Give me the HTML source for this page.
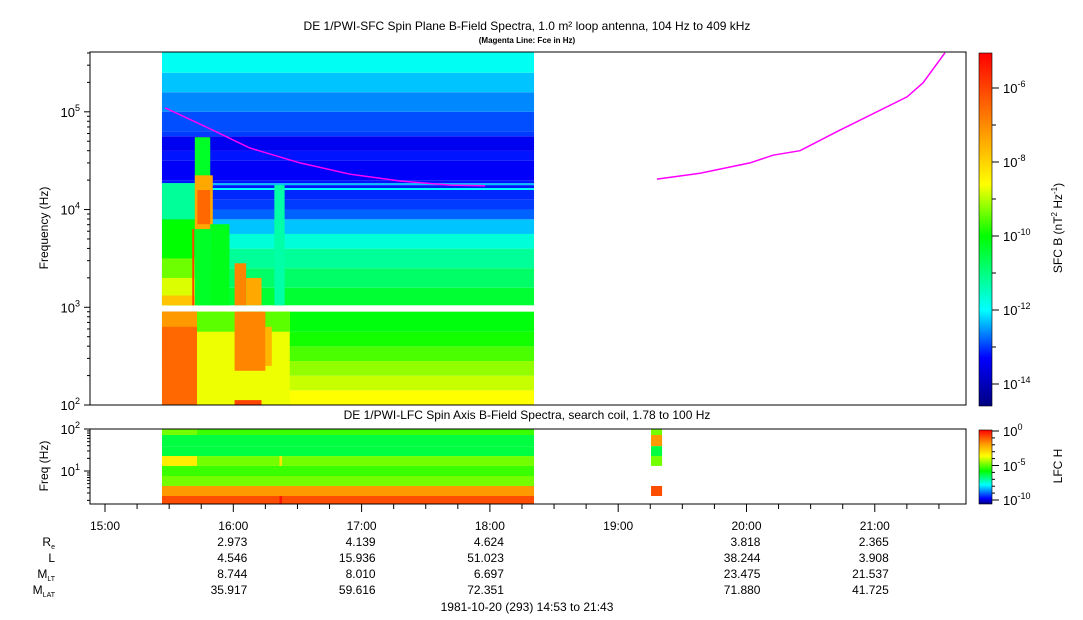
<!DOCTYPE html>
<html><head><meta charset="utf-8"><style>
body{margin:0;background:#fff;}
svg{display:block;font-family:"Liberation Sans",sans-serif;}
</style></head><body>
<svg id="chart" width="1083" height="620" viewBox="0 0 1083 620" xmlns="http://www.w3.org/2000/svg">
<defs>
<linearGradient id="cbMain" x1="0" y1="1" x2="0" y2="0">
<stop offset="0" stop-color="#000080"/><stop offset="0.136" stop-color="#0000ff"/><stop offset="0.272" stop-color="#00ffff"/><stop offset="0.482" stop-color="#00ff00"/><stop offset="0.628" stop-color="#ffff00"/><stop offset="0.775" stop-color="#ff9900"/><stop offset="0.953" stop-color="#ff2000"/><stop offset="1" stop-color="#ff0000"/>
</linearGradient>
<linearGradient id="cbLow" x1="0" y1="1" x2="0" y2="0">
<stop offset="0" stop-color="#000080"/><stop offset="0.074" stop-color="#0000ff"/><stop offset="0.259" stop-color="#00ffff"/><stop offset="0.444" stop-color="#00ff00"/><stop offset="0.648" stop-color="#ffff00"/><stop offset="0.815" stop-color="#ff9900"/><stop offset="1" stop-color="#ff0000"/>
</linearGradient>
</defs>
<g id="layer"></g>
</svg>
<script>
// ---- data ----
const upperEdges = [3.02,3.2,3.4,3.6,3.75,3.9,4.0,4.1,4.2,4.22,4.25,4.27,4.3,4.5,4.6,4.75,4.8,5.0,5.2,5.4,5.612];
const upperValues = [-10.4,-10.8,-11.2,-11.7,-12.3,-12.8,-13.0,-13.1,-12.0,-13.2,-12.3,-13.2,-13.35,-13.2,-13.45,-13.0,-12.9,-12.6,-12.3,-11.9];
const lowerEdges = [2.0,2.15,2.3,2.45,2.6,2.75,2.955];
const lowerValues = [-8.6,-8.9,-9.2,-9.6,-9.9,-10.1];
const sfcStart = 15.444, sfcEnd = 18.344;
// events: [t0, t1, logf0, logf1, log power]
const sfcEvents = [
 [15.444,15.717,3.9,4.27,-11.2],
 [15.444,15.717,3.02,3.9,-10.0],
 [15.444,15.717,3.02,3.5,-9.4],
 [15.444,15.717,3.02,3.3,-8.8],
 [15.444,15.717,3.02,3.12,-7.8],
 [15.444,15.717,2.0,2.955,-6.5],
 [15.444,15.717,2.8,2.955,-7.2],
 [15.700,15.820,3.02,4.74,-10.3],
 [15.700,15.840,3.80,4.35,-7.4],
 [15.720,15.820,3.85,4.20,-6.5],
 [15.680,15.695,3.02,3.80,-6.0],
 [15.820,15.970,3.02,3.85,-10.2],
 [15.717,16.440,2.0,2.955,-8.7],
 [15.717,16.440,2.75,2.955,-9.5],
 [16.010,16.100,3.02,3.45,-6.9],
 [16.100,16.220,3.02,3.30,-7.4],
 [16.010,16.250,2.35,2.955,-6.9],
 [16.250,16.300,2.40,2.80,-7.6],
 [16.320,16.400,3.02,4.25,-11.3],
 [16.010,16.220,2.0,2.05,-6.0]
];
const fceTimes1 = [15.468,15.740,16.130,16.520,16.910,17.299,17.689,17.962];
const fceFreqs1 = [110000,75000,42600,30000,23000,19600,17800,17500];
const fceTimes2 = [19.302,19.638,20.027,20.207,20.417,20.729,21.251,21.376,21.547];
const fceFreqs2 = [20500,23500,30000,36000,40000,65000,142000,198000,401000];
const lfcEdges = [100,72,39,22.7,13.2,7.6,4.4,2.54,1.64];
const lfcValues = [-5.5,-6.5,-6.5,-5.0,-5.5,-5.0,-2.0,-1.0];
const lfcEvents = [
 [15.444,15.717,0,-5.0],[15.444,15.717,3,-3.5],
 [16.360,16.380,3,-3.3],[16.360,16.380,7,-0.3],
 [19.256,19.342,0,-5.0],[19.256,19.342,1,-2.0],[19.256,19.342,2,-6.5],[19.256,19.342,3,-5.0],[19.256,19.342,6,-1.0]
];
const tickHours = [15,16,17,18,19,20,21];
const tickLabels = ["15:00","16:00","17:00","18:00","19:00","20:00","21:00"];
const ephemHours = [16,17,18,20,21];
const ephRe = ["2.973","4.139","4.624","3.818","2.365"];
const ephL = ["4.546","15.936","51.023","38.244","3.908"];
const ephMLT = ["8.744","8.010","6.697","23.475","21.537"];
const ephMLAT = ["35.917","59.616","72.351","71.880","41.725"];

// ---- axes ----
const X0=90, X1=966, T0=14.883, T1=21.711;
const xs = t => X0 + (t-T0)/(T1-T0)*(X1-X0);
const Y_TOP=52, Y_BOT=405;
const ys = lf => Y_BOT - (lf-2)*(Y_BOT-Y_TOP)/(5.612-2);
const LY_TOP=429, LY_BOT=504;
const ysl = f => 471 - (Math.log10(f)-1)*42;

function lerpCol(stops, v){
  if(v<=stops[0][0]) return `rgb(${stops[0][1].join(',')})`;
  for(let i=1;i<stops.length;i++){ if(v<=stops[i][0]){ const a=stops[i-1],b=stops[i],k=(v-a[0])/(b[0]-a[0]);
    const c=a[1].map((x,j)=>Math.round(x+(b[1][j]-x)*k)); return `rgb(${c[0]},${c[1]},${c[2]})`; } }
  const l=stops[stops.length-1][1]; return `rgb(${l[0]},${l[1]},${l[2]})`;
}
const mainStops=[[-14.6,[0,0,128]],[-13.3,[0,0,255]],[-12,[0,255,255]],[-10,[0,255,0]],[-8.6,[255,255,0]],[-7.2,[255,153,0]],[-5.5,[255,32,0]],[-5.05,[255,0,0]]];
const lowStops=[[-10.8,[0,0,128]],[-10,[0,0,255]],[-8,[0,255,255]],[-6,[0,255,0]],[-3.8,[255,255,0]],[-2,[255,153,0]],[0,[255,0,0]]];

const NS="http://www.w3.org/2000/svg";
const layer=document.getElementById('layer');
function el(tag, attrs, parent){ const e=document.createElementNS(NS,tag); for(const k in attrs) e.setAttribute(k,attrs[k]); (parent||layer).appendChild(e); return e; }
function txt(x,y,s,size,anchor,parent,extra){ const e=el('text',Object.assign({x:x,y:y,'font-size':size,'text-anchor':anchor||'middle',fill:'#000'},extra||{}),parent); e.textContent=s; return e; }

// titles
let t1=txt(527,30,"DE 1/PWI-SFC  Spin Plane B-Field Spectra, 1.0 m² loop antenna, 104 Hz to 409 kHz",12);


let t2=txt(527,43,"(Magenta Line: Fce in Hz)",8,'middle',null,{'font-weight':'bold'});



// spectrogram upper
const spec=el('g',{});


function band(edges,vals){
  for(let i=0;i<vals.length;i++){
    const r=el('rect',{x:xs(sfcStart),width:xs(sfcEnd)-xs(sfcStart),y:ys(edges[i+1]),height:ys(edges[i])-ys(edges[i+1]),fill:lerpCol(mainStops,vals[i])},spec);
    
    
  }
}
band(upperEdges,upperValues);
band(lowerEdges,lowerValues);
sfcEvents.forEach(e=>{
  const r=el('rect',{x:xs(e[0]),width:xs(e[1])-xs(e[0]),y:ys(e[3]),height:ys(e[2])-ys(e[3]),fill:lerpCol(mainStops,e[4])},spec);
  
  
});
// Fce lines
function fce(ts,fs,name){
  const p=el('polyline',{points:ts.map((t,i)=>xs(t)+','+ys(Math.log10(fs[i]))).join(' '),fill:'none',stroke:'#ff00ff','stroke-width':1.5});
  
  
}
fce(fceTimes1,fceFreqs1,'fce-line-1');
fce(fceTimes2,fceFreqs2,'fce-line-2');

// main frame
const fr=el('rect',{x:X0,y:Y_TOP,width:X1-X0,height:Y_BOT-Y_TOP,fill:'none',stroke:'#000','stroke-width':1});


const yax=el('g',{});


for(let d=2; d<=5; d++){
  for(let m=1;m<10;m++){
    const lf=d+Math.log10(m); if(lf>5.612) break;
    const y=ys(lf);
    el('line',{x1:X0-(m==1?6:3),x2:X0,y1:y,y2:y,stroke:'#000'},yax);
  }
  const tt=el('text',{x:X0-10,y:ys(d)+5,'font-size':13,'text-anchor':'end'},yax);
  tt.innerHTML='10<tspan dy="-6" font-size="9">'+d+'</tspan>';
}
const yl=txt(48,228,"Frequency (Hz)",12,'middle',null,{transform:'rotate(-90 48 228)'});



// colorbar main
const cb=el('rect',{x:979,y:53,width:13,height:353,fill:'url(#cbMain)',stroke:'#000','stroke-width':0.6});


const cbVal = v => 384 - (v+14)*37;
for(let v=-14; v<=-5.2; v+=1){ const y=cbVal(v); el('line',{x1:992,x2:v%2===0?999:996,y1:y,y2:y,stroke:'#000'}); }
[-6,-8,-10,-12,-14].forEach(v=>{ const tt=el('text',{x:1003,y:cbVal(v)+5,'font-size':13}); tt.innerHTML='10<tspan dy="-6" font-size="9">'+v+'</tspan>'; });
const cbt=el('text',{x:1062,y:228,'font-size':12,'text-anchor':'middle',transform:'rotate(-90 1062 228)'});
cbt.innerHTML='SFC B (nT<tspan dy="-5" font-size="8">2</tspan><tspan dy="5"> Hz</tspan><tspan dy="-5" font-size="8">-1</tspan><tspan dy="5">)</tspan>';



// lower panel
let t3=txt(527,419,"DE 1/PWI-LFC  Spin Axis B-Field Spectra, search coil, 1.78 to 100 Hz",12);


const lfc=el('g',{});


for(let i=0;i<lfcValues.length;i++){
  const r=el('rect',{x:xs(sfcStart),width:xs(sfcEnd)-xs(sfcStart),y:ysl(lfcEdges[i]),height:ysl(lfcEdges[i+1])-ysl(lfcEdges[i]),fill:lerpCol(lowStops,lfcValues[i])},lfc);
  
  
}
lfcEvents.forEach(e=>{
  const r=el('rect',{x:xs(e[0]),width:xs(e[1])-xs(e[0]),y:ysl(lfcEdges[e[2]]),height:ysl(lfcEdges[e[2]+1])-ysl(lfcEdges[e[2]]),fill:lerpCol(lowStops,e[3])},lfc);
  
  
});
const fr2=el('rect',{x:X0,y:LY_TOP,width:X1-X0,height:LY_BOT-LY_TOP,fill:'none',stroke:'#000'});


[2,3,4,5,6,7,8,9,10,20,30,40,50,60,70,80,90,100].forEach(f=>{ const y=ysl(f); if(y<=LY_BOT) el('line',{x1:X0-((f===10||f===100)?6:3),x2:X0,y1:y,y2:y,stroke:'#000'}); });
[[1,ysl(10)],[2,ysl(100)]].forEach(a=>{ const tt=el('text',{x:X0-10,y:a[1]+5,'font-size':13,'text-anchor':'end'}); tt.innerHTML='10<tspan dy="-6" font-size="9">'+a[0]+'</tspan>'; });
const yl2=txt(48,466,"Freq (Hz)",12,'middle',null,{transform:'rotate(-90 48 466)'});


const cb2=el('rect',{x:979,y:430,width:13,height:74,fill:'url(#cbLow)',stroke:'#000','stroke-width':0.6});


for(let v=0; v>=-10; v--){ const y=431 - v*6.9; el('line',{x1:992,x2:v%5===0?999:995,y1:y,y2:y,stroke:'#000'}); }
[[0,431],[-5,466],[-10,500]].forEach(a=>{ const tt=el('text',{x:1003,y:a[1]+5,'font-size':13}); tt.innerHTML='10<tspan dy="-6" font-size="9">'+a[0]+'</tspan>'; });
const cbt2=txt(1062,466,"LFC H",12,'middle',null,{transform:'rotate(-90 1062 466)'});



// time axis
const xax=el('g',{});


for(let t=14.75; t<=T1; t+=0.25){ if(t<T0) continue; const x=xs(t); const maj=Math.abs(t-Math.round(t))<1e-6; el('line',{x1:x,x2:x,y1:LY_BOT,y2:LY_BOT+(maj?8:5),stroke:'#000'},xax); }
tickHours.forEach((h,i)=>{ txt(xs(h),530,tickLabels[i],12,'middle',xax); });
// ephemeris
const rowsY=[546,562,578,594];
const rowsData=[ephRe,ephL,ephMLT,ephMLAT];
const eph=el('g',{});


let l1=el('text',{x:55,y:546,'font-size':12,'text-anchor':'end'},eph); l1.innerHTML='R<tspan dy="3" font-size="7">e</tspan>';
txt(55,562,"L",12,'end',eph);
let l3=el('text',{x:55,y:578,'font-size':12,'text-anchor':'end'},eph); l3.innerHTML='M<tspan dy="3" font-size="7">LT</tspan>';
let l4=el('text',{x:55,y:594,'font-size':12,'text-anchor':'end'},eph); l4.innerHTML='M<tspan dy="3" font-size="7">LAT</tspan>';
rowsData.forEach((arr,r)=>{ arr.forEach((s,i)=>{ txt(xs(ephemHours[i])+14,rowsY[r],s,12,'end',eph); }); });
const dt=txt(527,611,"1981-10-20 (293) 14:53 to 21:43",12);


</script>
</body></html>
